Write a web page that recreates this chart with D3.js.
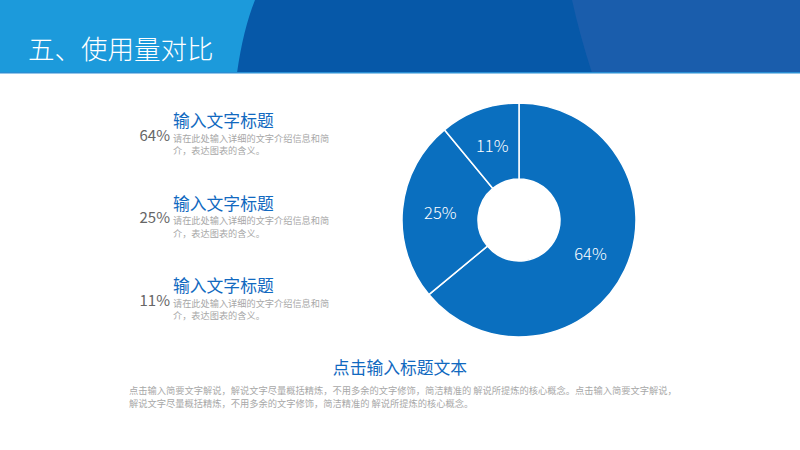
<!DOCTYPE html>
<html>
<head>
<meta charset="utf-8">
<title>使用量对比</title>
<script src="https://d3js.org/d3.v7.min.js"></script>
<style>
  body { margin: 0; background: #fff; }
  svg { display: block; }
  text { font-family: "Noto Sans CJK SC", "Noto Sans", sans-serif; }
</style>
</head>
<body>
<script>
var w = 800, h = 450;

// data
var shares = [64, 25, 11];
var shareLabels = ["64%", "25%", "11%"];
var itemTitles = ["输入文字标题", "输入文字标题", "输入文字标题"];
var itemDesc = ["请在此处输入详细的文字介绍信息和简", "介，表达图表的含义。"];
var pageTitle = "五、使用量对比";
var bottomTitle = "点击输入标题文本";
var bottomText = [
  "点击输入简要文字解说，解说文字尽量概括精炼，不用多余的文字修饰，简洁精准的 解说所提炼的核心概念。点击输入简要文字解说，",
  "解说文字尽量概括精炼，不用多余的文字修饰，简洁精准的 解说所提炼的核心概念。"
];

var svg = d3.select("body").append("svg")
  .attr("width", w)
  .attr("height", h);

// header band
var head = svg.append("g");
head.append("rect").attr("x", 0).attr("y", 0).attr("width", w).attr("height", 73).attr("fill", "#0658A8");
head.append("path") // right lighter part
  .attr("d", "M572,0 Q580,36 592,73 L800,73 L800,0 Z")
  .attr("fill", "#1A5DAC");
head.append("path") // left light blue part
  .attr("d", "M0,0 L255,0 Q243,30 237,73 L0,73 Z")
  .attr("fill", "#1C9ADB");
head.append("rect").attr("x", 0).attr("y", 72).attr("width", w).attr("height", 1.5).attr("fill", "#2A8ED3");
head.append("text")
  .attr("x", 28).attr("y", 59)
  .attr("font-size", 26.5)
  .attr("font-weight", 300)
  .attr("fill", "#fff")
  .text(pageTitle);

// donut
var cx = 519, cy = 220, R = 117, r = 41;
var pie = d3.pie().sort(null).value(function(d) { return d; });
var arc = d3.arc().innerRadius(r).outerRadius(R);
var arcs = pie(shares);

var donut = svg.append("g").attr("transform", "translate(" + cx + "," + cy + ")");
donut.selectAll("path")
  .data(arcs)
  .enter()
  .append("path")
  .attr("d", arc)
  .attr("fill", "#0A6FBF")
  .attr("stroke", "#fff")
  .attr("stroke-width", 1.5);

donut.selectAll("text")
  .data(arcs)
  .enter()
  .append("text")
  .attr("transform", function(d) { return "translate(" + arc.centroid(d) + ")"; })
  .attr("text-anchor", "middle")
  .attr("dy", "0.36em")
  .attr("font-size", 16.5)
  .attr("font-weight", 300)
  .attr("fill", "#fff")
  .text(function(d, i) { return shareLabels[i]; });

// left item list
var rowY = d3.scalePoint().domain(d3.range(shares.length)).range([127, 292]);
var rows = svg.selectAll("g.item")
  .data(shares)
  .enter()
  .append("g")
  .attr("class", "item")
  .attr("transform", function(d, i) { return "translate(0," + rowY(i) + ")"; });

rows.append("text")
  .attr("x", 173).attr("y", 0)
  .attr("font-size", 16.8)
  .attr("fill", "#1169C0")
  .text(function(d, i) { return itemTitles[i]; });

rows.append("text")
  .attr("x", 170).attr("y", 13.5)
  .attr("text-anchor", "end")
  .attr("font-size", 15)
  .attr("fill", "#666")
  .text(function(d, i) { return shareLabels[i]; });

rows.selectAll("text.desc")
  .data(itemDesc)
  .enter()
  .append("text")
  .attr("class", "desc")
  .attr("x", 173)
  .attr("y", function(d, j) { return 14.5 + j * 12.5; })
  .attr("font-size", 9.2)
  .attr("fill", "#A8A8A8")
  .text(function(d) { return d; });

// bottom title and text
svg.append("text")
  .attr("x", 400).attr("y", 374)
  .attr("text-anchor", "middle")
  .attr("font-size", 16.8)
  .attr("fill", "#1169C0")
  .text(bottomTitle);

svg.selectAll("text.para")
  .data(bottomText)
  .enter()
  .append("text")
  .attr("class", "para")
  .attr("x", 129)
  .attr("y", function(d, i) { return 394 + i * 13; })
  .attr("font-size", 9.25)
  .attr("fill", "#A8A8A8")
  .text(function(d) { return d; });
</script>
</body>
</html>
